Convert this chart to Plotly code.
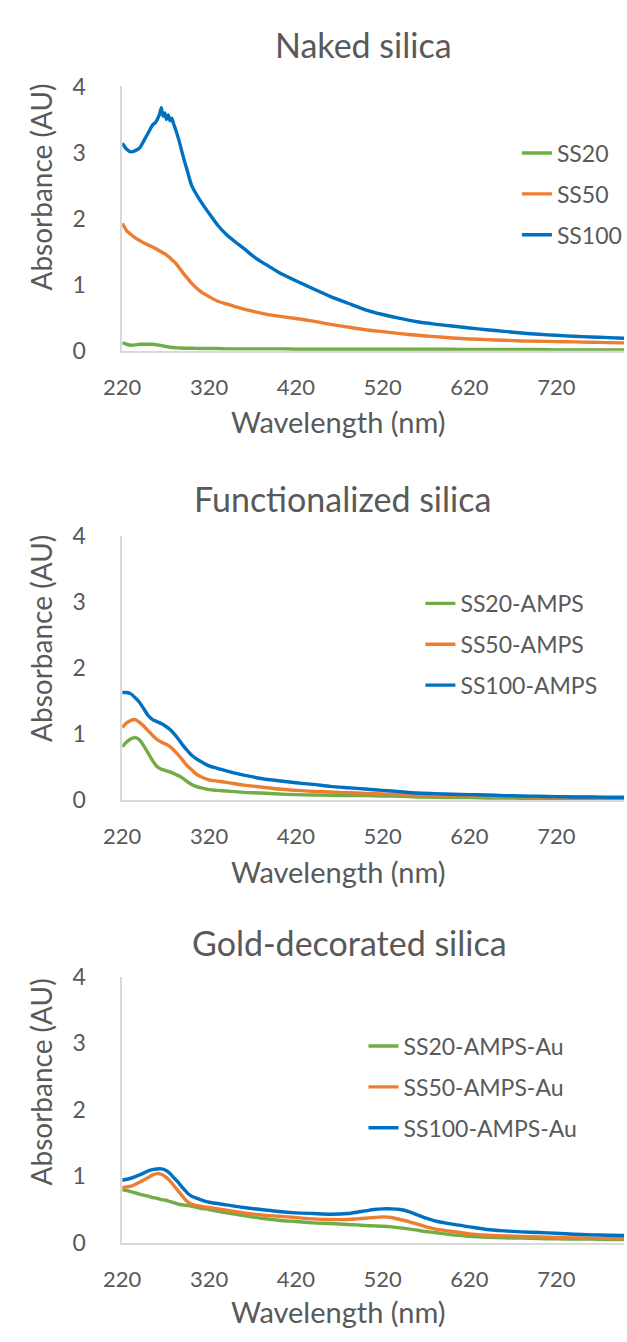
import plotly.graph_objects as go

# ---------------- data ----------------
wl1 = [220, 225, 230, 235, 240, 245, 250, 255, 258, 261, 263, 265, 267, 269, 271, 273, 275, 277, 279,
       282, 285, 290, 295, 300, 310, 320, 330, 340, 350, 360, 370, 380, 390, 400, 420, 440, 460, 480,
       500, 520, 540, 560, 580, 600, 620, 640, 660, 680, 700, 720, 740, 760, 780, 800]
ss20 = [0.12, 0.10, 0.085, 0.09, 0.10, 0.10, 0.10, 0.10, 0.095, 0.09, 0.085, 0.08, 0.075, 0.07, 0.065,
        0.06, 0.055, 0.05, 0.05, 0.045, 0.045, 0.04, 0.04, 0.04, 0.035, 0.035, 0.035, 0.03, 0.03, 0.03,
        0.03, 0.03, 0.03, 0.03, 0.025, 0.025, 0.025, 0.025, 0.025, 0.025, 0.025, 0.025, 0.025, 0.025,
        0.02, 0.02, 0.02, 0.02, 0.02, 0.015, 0.015, 0.015, 0.015, 0.015]
ss50 = [1.93, 1.82, 1.76, 1.71, 1.67, 1.63, 1.60, 1.57, 1.55, 1.53, 1.51, 1.50, 1.48, 1.47, 1.45, 1.43,
        1.41, 1.38, 1.36, 1.32, 1.27, 1.18, 1.10, 1.02, 0.90, 0.82, 0.75, 0.71, 0.67, 0.63, 0.60, 0.57,
        0.545, 0.525, 0.49, 0.45, 0.40, 0.36, 0.32, 0.29, 0.26, 0.235, 0.215, 0.195, 0.18, 0.17, 0.16,
        0.15, 0.145, 0.14, 0.135, 0.13, 0.125, 0.12]
ss100 = [3.14, 3.05, 3.01, 3.03, 3.07, 3.18, 3.30, 3.42, 3.45, 3.52, 3.58, 3.68, 3.55, 3.60, 3.50, 3.57,
         3.48, 3.52, 3.44, 3.33, 3.20, 2.95, 2.72, 2.50, 2.27, 2.08, 1.90, 1.76, 1.65, 1.55, 1.44, 1.35,
         1.27, 1.19, 1.06, 0.94, 0.82, 0.72, 0.62, 0.55, 0.49, 0.44, 0.405, 0.375, 0.345, 0.32, 0.295,
         0.27, 0.25, 0.235, 0.22, 0.21, 0.20, 0.19]

wl2 = [220, 225, 230, 235, 240, 245, 250, 255, 260, 265, 270, 275, 280, 285, 290, 295, 300, 305, 310,
       320, 330, 340, 350, 360, 380, 400, 420, 440, 460, 480, 500, 520, 540, 560, 580, 600, 620, 640,
       660, 680, 700, 720, 740, 760, 780, 800]
ss20_amps = [0.81, 0.88, 0.93, 0.95, 0.91, 0.82, 0.71, 0.60, 0.51, 0.47, 0.45, 0.43, 0.40, 0.37, 0.33,
             0.28, 0.24, 0.21, 0.19, 0.16, 0.15, 0.14, 0.13, 0.12, 0.11, 0.095, 0.085, 0.08, 0.075,
             0.07, 0.07, 0.065, 0.06, 0.05, 0.045, 0.04, 0.04, 0.035, 0.035, 0.03, 0.03, 0.03, 0.03,
             0.03, 0.03, 0.03]
ss50_amps = [1.10, 1.17, 1.21, 1.22, 1.18, 1.12, 1.05, 0.98, 0.92, 0.88, 0.85, 0.81, 0.75, 0.68, 0.60,
             0.52, 0.46, 0.40, 0.36, 0.31, 0.29, 0.27, 0.25, 0.23, 0.20, 0.17, 0.15, 0.135, 0.125,
             0.115, 0.105, 0.095, 0.085, 0.08, 0.075, 0.07, 0.065, 0.06, 0.055, 0.055, 0.05, 0.05,
             0.045, 0.045, 0.04, 0.04]
ss100_amps = [1.63, 1.63, 1.61, 1.55, 1.48, 1.38, 1.28, 1.22, 1.19, 1.16, 1.12, 1.07, 1.00, 0.92, 0.83,
              0.75, 0.68, 0.63, 0.59, 0.52, 0.48, 0.445, 0.41, 0.38, 0.33, 0.295, 0.265, 0.24, 0.21,
              0.19, 0.17, 0.15, 0.13, 0.11, 0.10, 0.09, 0.085, 0.08, 0.07, 0.065, 0.06, 0.055, 0.05,
              0.05, 0.045, 0.045]

wl3 = [220, 230, 240, 250, 255, 260, 265, 270, 275, 280, 285, 290, 295, 300, 310, 320, 340, 360, 380,
       400, 420, 440, 460, 480, 490, 500, 510, 520, 530, 540, 550, 560, 570, 580, 600, 620, 640, 660,
       680, 700, 720, 740, 760, 780, 800]
ss20_au = [0.80, 0.77, 0.73, 0.70, 0.68, 0.67, 0.65, 0.64, 0.62, 0.60, 0.58, 0.57, 0.56, 0.55, 0.52,
           0.50, 0.45, 0.41, 0.37, 0.34, 0.32, 0.30, 0.29, 0.275, 0.27, 0.26, 0.255, 0.25, 0.24, 0.225,
           0.21, 0.19, 0.17, 0.155, 0.12, 0.10, 0.085, 0.075, 0.07, 0.065, 0.06, 0.055, 0.055, 0.05, 0.05]
ss50_au = [0.83, 0.85, 0.91, 0.98, 1.02, 1.04, 1.03, 0.99, 0.93, 0.85, 0.77, 0.69, 0.62, 0.58, 0.55,
           0.53, 0.49, 0.45, 0.42, 0.40, 0.38, 0.36, 0.35, 0.35, 0.36, 0.37, 0.38, 0.39, 0.38, 0.35,
           0.32, 0.28, 0.24, 0.21, 0.17, 0.135, 0.115, 0.105, 0.095, 0.09, 0.08, 0.075, 0.07, 0.065, 0.065]
ss100_au = [0.94, 0.97, 1.02, 1.08, 1.10, 1.11, 1.11, 1.09, 1.04, 0.97, 0.90, 0.82, 0.75, 0.70, 0.65,
            0.61, 0.57, 0.53, 0.50, 0.47, 0.45, 0.44, 0.43, 0.44, 0.46, 0.48, 0.50, 0.51, 0.51, 0.50,
            0.47, 0.42, 0.37, 0.33, 0.28, 0.24, 0.20, 0.18, 0.165, 0.155, 0.145, 0.13, 0.12, 0.115, 0.11]

titles = ["Naked silica", "Functionalized silica", "Gold-decorated silica"]
x_tick_vals = [220, 320, 420, 520, 620, 720]
y_tick_vals = [0, 1, 2, 3, 4]
x_title = "Wavelength (nm)"
y_title = "Absorbance (AU)"

GREEN, ORANGE, BLUE = "#70AD47", "#ED7D31", "#0070C0"
TXT = "#595959"
FONT = "Lato"

W, H = 627, 1342
panels = [
    dict(wl=wl1, series=[("SS20", ss20, GREEN), ("SS50", ss50, ORANGE), ("SS100", ss100, BLUE)],
         top=73, bot=343, title_xy=(357, 30), leg=(516, 119), ytitle_y=176, xtitle_y=415),
    dict(wl=wl2, series=[("SS20-AMPS", ss20_amps, GREEN), ("SS50-AMPS", ss50_amps, ORANGE),
                         ("SS100-AMPS", ss100_amps, BLUE)],
         top=532, bot=802, title_xy=(335, 494), leg=(416, 579), ytitle_y=637, xtitle_y=875),
    dict(wl=wl3, series=[("SS20-AMPS-Au", ss20_au, GREEN), ("SS50-AMPS-Au", ss50_au, ORANGE),
                         ("SS100-AMPS-Au", ss100_au, BLUE)],
         top=982, bot=1254, title_xy=(343, 947), leg=(357, 1031), ytitle_y=1090, xtitle_y=1324),
]

fig = go.Figure()
annotations = []
layout = {}
AX_L = 107
for i, p in enumerate(panels):
    n = "" if i == 0 else str(i + 1)
    legname = "legend" if i == 0 else f"legend{i+1}"
    for name, ys, col in p["series"]:
        fig.add_trace(go.Scatter(x=p["wl"], y=ys, mode="lines", name=name,
                                 line=dict(color=col, width=3.4, shape="spline", smoothing=0.6),
                                 xaxis="x" + n, yaxis="y" + n, legend=legname,
                                 legendgroup=f"{name}"))
    layout["xaxis" + n] = dict(
        domain=[AX_L / W, 1.0], anchor="y" + n, range=[220, 798],
        tickvals=x_tick_vals, ticktext=[str(v) for v in x_tick_vals],
        showline=True, linecolor="#D9D9D9", linewidth=1.5, showgrid=False, zeroline=False,
        ticks="", tickfont=dict(family=FONT, size=22, color=TXT), ticklabelstandoff=16,
    )
    layout["yaxis" + n] = dict(
        domain=[1 - p["bot"] / H, 1 - p["top"] / H], anchor="x" + n, range=[0, 4],
        tickvals=y_tick_vals, showline=True, linecolor="#D9D9D9", linewidth=1.5,
        showgrid=False, zeroline=False, ticks="",
        tickfont=dict(family=FONT, size=23, color=TXT), ticklabelstandoff=30,
    )
    layout[legname] = dict(
        x=p["leg"][0] / W, y=1 - p["leg"][1] / H, xanchor="left", yanchor="top",
        bgcolor="rgba(0,0,0,0)", borderwidth=0, tracegroupgap=8,
        font=dict(family=FONT, size=23, color=TXT),
    )
    annotations.append(dict(text=titles[i], x=p["title_xy"][0] / W, y=1 - p["title_xy"][1] / H,
                            xref="paper", yref="paper", showarrow=False, xanchor="center",
                            yanchor="middle", font=dict(family=FONT, size=34, color=TXT)))
    annotations.append(dict(text=y_title, x=23 / W, y=1 - p["ytitle_y"] / H, xref="paper",
                            yref="paper", showarrow=False, textangle=-90, xanchor="center",
                            yanchor="middle", font=dict(family=FONT, size=28, color=TXT)))
    annotations.append(dict(text=x_title, x=331 / W, y=1 - p["xtitle_y"] / H, xref="paper",
                            yref="paper", showarrow=False, xanchor="center", yanchor="middle",
                            font=dict(family=FONT, size=29, color=TXT)))

fig.update_layout(
    width=W, height=H, margin=dict(l=0, r=0, t=0, b=0),
    paper_bgcolor="white", plot_bgcolor="white", showlegend=True,
    annotations=annotations, **layout,
)
fig.write_html("out.html")
